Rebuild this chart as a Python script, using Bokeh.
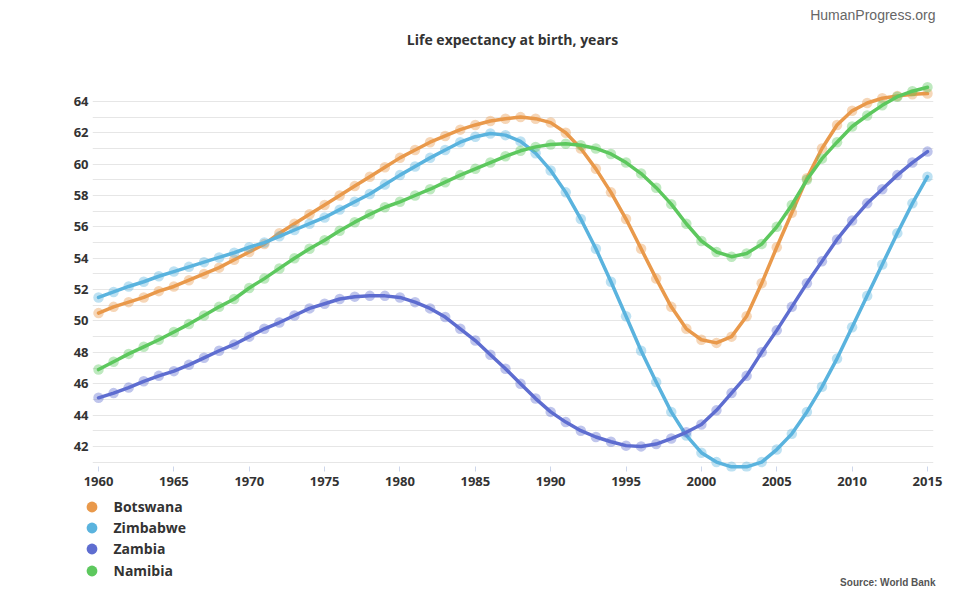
from bokeh.plotting import figure
from bokeh.layouts import column
from bokeh.models import (ColumnDataSource, FixedTicker, Label, Legend, LegendItem,
                          Range1d)
from bokeh.embed import file_html
from bokeh.resources import INLINE

# Life expectancy at birth (years), World Bank
years = list(range(1960, 2016))

botswana = [50.5, 50.9, 51.2, 51.5, 51.9, 52.2, 52.6, 53.0, 53.4, 53.9,
            54.4, 54.9, 55.6, 56.2, 56.8, 57.4, 58.0, 58.6, 59.2, 59.8,
            60.4, 60.9, 61.4, 61.8, 62.2, 62.5, 62.75, 62.9, 63.0, 62.9,
            62.65, 62.0, 61.0, 59.7, 58.2, 56.5, 54.6, 52.7, 50.9, 49.5,
            48.8, 48.6, 49.0, 50.3, 52.4, 54.7, 56.9, 59.1, 61.0, 62.5,
            63.4, 63.9, 64.2, 64.35, 64.45, 64.5]

zimbabwe = [51.5, 51.85, 52.2, 52.5, 52.85, 53.15, 53.45, 53.75, 54.05, 54.35,
            54.7, 55.0, 55.4, 55.8, 56.2, 56.6, 57.1, 57.6, 58.1, 58.7,
            59.3, 59.85, 60.4, 60.9, 61.4, 61.75, 61.95, 61.85, 61.45, 60.7,
            59.6, 58.2, 56.5, 54.6, 52.5, 50.3, 48.1, 46.1, 44.2, 42.7,
            41.6, 41.0, 40.7, 40.7, 41.0, 41.8, 42.8, 44.2, 45.8, 47.6,
            49.6, 51.6, 53.6, 55.6, 57.5, 59.2]

zambia = [45.1, 45.4, 45.75, 46.15, 46.5, 46.8, 47.2, 47.65, 48.1, 48.5,
          49.0, 49.5, 49.9, 50.35, 50.8, 51.1, 51.4, 51.55, 51.6, 51.6,
          51.5, 51.2, 50.8, 50.25, 49.5, 48.75, 47.85, 46.95, 46.0, 45.05,
          44.2, 43.55, 43.0, 42.6, 42.3, 42.05, 42.0, 42.15, 42.5, 42.9,
          43.4, 44.3, 45.4, 46.5, 48.0, 49.4, 50.9, 52.4, 53.8, 55.2,
          56.4, 57.5, 58.4, 59.3, 60.1, 60.8]

namibia = [46.9, 47.4, 47.9, 48.35, 48.8, 49.3, 49.8, 50.35, 50.9, 51.4,
           52.1, 52.7, 53.35, 54.0, 54.6, 55.15, 55.75, 56.3, 56.8, 57.25,
           57.6, 58.0, 58.4, 58.85, 59.3, 59.7, 60.1, 60.5, 60.85, 61.1,
           61.25, 61.3, 61.2, 61.0, 60.65, 60.1, 59.4, 58.5, 57.45, 56.2,
           55.1, 54.4, 54.1, 54.3, 54.9, 56.0, 57.4, 59.0, 60.35, 61.4,
           62.4, 63.1, 63.75, 64.3, 64.65, 64.9]

series_names = ["Botswana", "Zimbabwe", "Zambia", "Namibia"]
series_values = [botswana, zimbabwe, zambia, namibia]
series_colors = ["#E9994B", "#5AB3DE", "#5E6DD0", "#5DC85E"]

y_tick_labels = list(range(42, 65, 2))
y_grid_lines = list(range(41, 65))
x_tick_labels = list(range(1960, 2016, 5))

LABEL_FONT = "Open Sans"
W = 970
FRAME_LEFT = 92      # left edge of the chart's plotting area
FRAME_RIGHT = 37     # space right of the plotting area


def blank_strip(height):
    """A figure with no axes; returns it and the x offset of its frame."""
    f = figure(width=W, height=height, output_backend="svg", toolbar_location=None,
               x_range=Range1d(0, W), y_range=Range1d(0, height),
               x_axis_location=None, y_axis_location=None,
               min_border=0, border_fill_color="white")
    f.outline_line_color = None
    f.grid.grid_line_color = None
    f.title.visible = False
    try:
        f.frame_align = False
        dx = 0
    except (AttributeError, ValueError):
        dx = FRAME_LEFT
    return f, dx


def right_edge(x, dx):
    """Screen x for right-aligned text, kept inside the strip's frame."""
    x = x - dx
    if dx:
        x = min(x, W - FRAME_LEFT - FRAME_RIGHT - 1)
    return x


# --- header: chart title and site name ---
header, hdx = blank_strip(81)
header.add_layout(Label(x=512 - hdx, y=42, x_units="screen", y_units="screen",
                        text="Life expectancy at birth, years",
                        text_font=LABEL_FONT, text_font_style="bold",
                        text_font_size="14px", text_color="#333333",
                        text_align="center", text_baseline="middle"))
header.add_layout(Label(x=right_edge(935, hdx), y=67,
                        x_units="screen", y_units="screen",
                        text="HumanProgress.org", text_font="Liberation Sans",
                        text_font_size="14px", text_color="#666666",
                        text_align="right", text_baseline="middle"))

# --- main chart ---
p = figure(width=W, height=416, output_backend="svg", toolbar_location=None,
           x_range=Range1d(1959.6, 2015.4), y_range=Range1d(40.4, 65.27),
           min_border_left=FRAME_LEFT, min_border_right=FRAME_RIGHT,
           min_border_top=0, min_border_bottom=26,
           background_fill_color="white", border_fill_color="white")
p.outline_line_color = None
p.title.visible = False

p.xgrid.grid_line_color = None
p.ygrid.ticker = FixedTicker(ticks=y_grid_lines)
p.ygrid.grid_line_color = "#e6e6e6"
p.ygrid.grid_line_width = 1

p.yaxis.ticker = FixedTicker(ticks=y_tick_labels)
p.yaxis.axis_line_color = None
p.yaxis.major_tick_line_color = None
p.yaxis.major_tick_out = 0
p.yaxis.major_tick_in = 0
p.yaxis.minor_tick_line_color = None
p.yaxis.major_label_standoff = 4

p.xaxis.ticker = FixedTicker(ticks=x_tick_labels)
p.xaxis.axis_line_color = None
p.xaxis.major_tick_line_color = "#ccd6eb"
p.xaxis.major_tick_in = 5
p.xaxis.major_tick_out = 0
p.xaxis.minor_tick_line_color = None
p.xaxis.major_label_standoff = 5

for ax in (p.xaxis, p.yaxis):
    ax.major_label_text_font = LABEL_FONT
    ax.major_label_text_font_style = "bold"
    ax.major_label_text_font_size = "13px"
    ax.major_label_text_color = "#333333"

sources = []
for name, vals, col in zip(series_names, series_values, series_colors):
    src = ColumnDataSource(data=dict(year=years, value=vals))
    sources.append(src)
    p.scatter("year", "value", source=src, size=10.5, fill_color=col,
              fill_alpha=0.4, line_color=None)
    p.line("year", "value", source=src, line_color=col, line_width=3.5,
           line_join="round", line_cap="round")

# --- footer: legend and source note ---
footer, fdx = blank_strip(103)
box_left = max(77.5 - fdx, 0)
row_centres = [506, 527.3, 548.7, 570]   # canvas y of each legend row
for name, src, col, yc in zip(series_names, sources, series_colors, row_centres):
    # zero-size proxy marker: only its legend swatch is seen
    key = footer.scatter("year", "value", source=src, size=0,
                         fill_color=col, line_color=None)
    footer.add_layout(Legend(
        items=[LegendItem(label=name, renderers=[key])],
        location=(box_left, 600 - (yc + 13.5)),
        orientation="vertical", padding=0, margin=0, spacing=0,
        glyph_width=27, glyph_height=27, label_height=21, label_standoff=9,
        border_line_color=None, background_fill_alpha=0,
        label_text_font=LABEL_FONT, label_text_font_style="bold",
        label_text_font_size="14px", label_text_color="#333333"), "center")

footer.add_layout(Label(x=right_edge(935, fdx), y=18,
                        x_units="screen", y_units="screen",
                        text="Source: World Bank", text_font="Liberation Sans",
                        text_font_style="bold", text_font_size="10px",
                        text_color="#555555", text_align="right",
                        text_baseline="middle"))

layout = column(header, p, footer, spacing=0)
open("out.html", "w").write(file_html(layout, INLINE))
